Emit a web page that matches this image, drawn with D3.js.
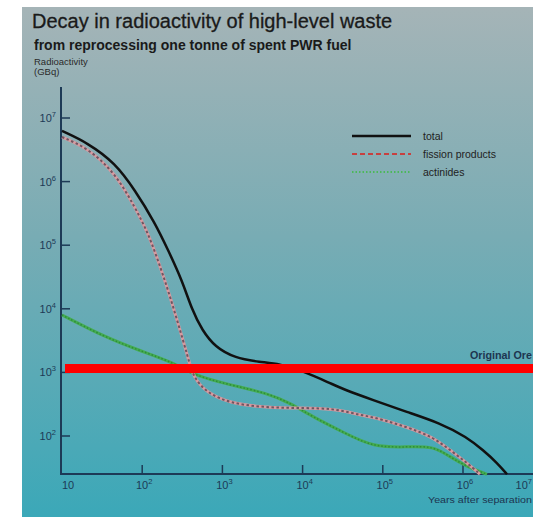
<!DOCTYPE html>
<html lang="en">
<head>
<meta charset="utf-8">
<title>Decay in radioactivity of high-level waste</title>
<script src="https://d3js.org/d3.v7.min.js"></script>
<style>
  body { margin: 0; background: #fff; }
  text { font-family: "Liberation Sans", Arial, sans-serif; }
</style>
</head>
<body>
<svg id="chart"></svg>
<script>
// years after separation / activity in GBq
const totalYears = [10, 21, 46, 81, 145, 210, 313, 418, 557, 809, 1435, 2944, 5224, 9290, 21980, 33800, 75510, 200400, 516400, 1122000, 1774000, 2655000, 3540000];
const totalGBq   = [6.25e6, 4.05e6, 1.96e6, 7.38e5, 2.23e5, 8.4e4, 2.84e4, 9570, 4650, 2510, 1680, 1460, 1355, 1090, 681, 528, 368, 238, 160, 96, 60, 38, 25];

const fissionYears = [10, 21, 46, 81, 118, 157, 210, 279, 372, 430, 643, 1245, 2944, 6966, 16480, 29240, 52000, 75510, 200400, 422700, 688700, 1122000, 1630000];
const fissionGBq   = [5.02e6, 3.37e6, 1.365e6, 3.99e5, 1.556e5, 5.85e4, 1.977e4, 5984, 1746, 847, 474, 330, 286, 275, 275, 256, 214, 199, 139, 96, 60, 38, 25];

const actinideYears = [10, 34, 89, 256, 430, 1245, 3597, 6966, 13490, 33800, 75510, 200400, 422700, 688700, 1122000, 1990000];
const actinideGBq   = [8000, 3606, 2249, 1406, 910, 634, 474, 330, 199, 111, 67, 67, 70, 47, 33, 25];

const oreLevel = 1150;
const xTicks = [10, 1e2, 1e3, 1e4, 1e5, 1e6, 1e7];
const xTickExp = ["", "2", "3", "4", "5", "6", "7"];
const yTicks = [1e2, 1e3, 1e4, 1e5, 1e6, 1e7];
const yTickExp = ["2", "3", "4", "5", "6", "7"];
const legendNames = ["total", "fission products", "actinides"];

const width = 533, height = 517;
const svg = d3.select("#chart").attr("width", width).attr("height", height);

// background gradient panel
const grad = svg.append("defs").append("linearGradient")
    .attr("id", "bg").attr("x1", 0).attr("y1", 0).attr("x2", 0).attr("y2", 1);
grad.append("stop").attr("offset", 0).attr("stop-color", "#a5b4b7");
grad.append("stop").attr("offset", 0.45).attr("stop-color", "#78acb4");
grad.append("stop").attr("offset", 1).attr("stop-color", "#3ba8b8");
svg.append("rect").attr("x", 22).attr("y", 7).attr("width", width - 22).attr("height", height - 7)
    .attr("fill", "url(#bg)");

let x = d3.scaleLog().domain([10, 1e7]).range([62, 62 + 6 * 80.2]);
let y = d3.scaleLog().domain([1e2, 1e7]).range([436, 118]);

const axisColor = "#1d3a56";

// titles
svg.append("text").attr("x", 32).attr("y", 28)
    .attr("font-size", 20).attr("fill", "#1a1a1a")
    .attr("stroke", "#1a1a1a").attr("stroke-width", 0.3)
    .text("Decay in radioactivity of high-level waste");
svg.append("text").attr("x", 34).attr("y", 50)
    .attr("font-size", 14).attr("font-weight", "bold").attr("fill", "#1a1a1a")
    .text("from reprocessing one tonne of spent PWR fuel");
svg.append("text").attr("x", 34).attr("y", 65)
    .attr("font-size", 9.5).attr("fill", "#2a2a2a").text("Radioactivity");
svg.append("text").attr("x", 34).attr("y", 75)
    .attr("font-size", 9.5).attr("fill", "#2a2a2a").text("(GBq)");

// axes
svg.append("line").attr("x1", 61).attr("x2", 61).attr("y1", 87).attr("y2", 474)
    .attr("stroke", axisColor).attr("stroke-width", 2);
svg.append("line").attr("x1", 60).attr("x2", width).attr("y1", 474).attr("y2", 474)
    .attr("stroke", axisColor).attr("stroke-width", 2);

let yAxis = svg.append("g");
yAxis.selectAll("line").data(yTicks).enter().append("line")
    .attr("x1", 61).attr("x2", 70).attr("y1", d => y(d)).attr("y2", d => y(d))
    .attr("stroke", axisColor).attr("stroke-width", 1.5);
let yLab = yAxis.selectAll("text").data(yTicks).enter().append("text")
    .attr("x", 56).attr("y", d => y(d) + 4).attr("text-anchor", "end")
    .attr("font-size", 11).attr("fill", axisColor);
yLab.append("tspan").text("10");
yLab.append("tspan").attr("dy", -5).attr("font-size", 7.5).text((d, i) => yTickExp[i]);

let xAxis = svg.append("g");
xAxis.selectAll("line").data(xTicks.slice(1)).enter().append("line")
    .attr("x1", d => x(d)).attr("x2", d => x(d)).attr("y1", 474).attr("y2", 465)
    .attr("stroke", axisColor).attr("stroke-width", 1.5);
let xLab = xAxis.selectAll("text").data(xTicks).enter().append("text")
    .attr("x", (d, i) => i === 0 ? x(d) + 6 : (i === xTicks.length - 1 ? width - 1 : x(d) + 2))
    .attr("y", 489)
    .attr("text-anchor", (d, i) => i === xTicks.length - 1 ? "end" : "middle")
    .attr("font-size", 11).attr("fill", axisColor);
xLab.append("tspan").text("10");
xLab.append("tspan").attr("dy", -5).attr("font-size", 7.5).text((d, i) => xTickExp[i]);

svg.append("text").attr("x", 428).attr("y", 503)
    .attr("font-size", 9.5).attr("fill", "#1d3550")
    .attr("textLength", 104).attr("lengthAdjust", "spacingAndGlyphs")
    .text("Years after separation");

// curves
let line = d3.line().x(d => x(d[0])).y(d => y(d[1])).curve(d3.curveBasis);
const zip = (a, b) => a.map((v, i) => [v, b[i]]);

svg.append("path").datum(zip(actinideYears, actinideGBq))
    .attr("d", line).attr("fill", "none")
    .attr("stroke", "#44ad52").attr("stroke-width", 3);
svg.append("path").datum(zip(actinideYears, actinideGBq))
    .attr("d", line).attr("fill", "none")
    .attr("stroke", "#2e8a3c").attr("stroke-width", 1.5).attr("stroke-dasharray", "1.5,2");

svg.append("path").datum(zip(fissionYears, fissionGBq))
    .attr("d", line).attr("fill", "none")
    .attr("stroke", "#d69aa0").attr("stroke-width", 3);
svg.append("path").datum(zip(fissionYears, fissionGBq))
    .attr("d", line).attr("fill", "none")
    .attr("stroke", "#6e5560").attr("stroke-width", 2).attr("stroke-dasharray", "2.5,2.5");

svg.append("path").datum(zip(totalYears, totalGBq))
    .attr("d", line).attr("fill", "none")
    .attr("stroke", "#111").attr("stroke-width", 2.5);

// original ore level
svg.append("line").attr("x1", 65).attr("x2", width)
    .attr("y1", y(oreLevel)).attr("y2", y(oreLevel))
    .attr("stroke", "#ff0000").attr("stroke-width", 9);
svg.append("text").attr("x", 470).attr("y", 359)
    .attr("font-size", 10).attr("font-weight", "bold").attr("fill", "#1d3550")
    .attr("textLength", 62).attr("lengthAdjust", "spacingAndGlyphs")
    .text("Original Ore");

// legend
const legendStyles = [
    {stroke: "#111", width: 2.5, dash: null},
    {stroke: "#c8403f", width: 2, dash: "5,3"},
    {stroke: "#4cb85a", width: 2, dash: "1.5,2"}
];
let legend = svg.append("g");
legendNames.forEach((name, i) => {
    let ly = 136 + i * 18;
    legend.append("line").attr("x1", 352).attr("x2", 411).attr("y1", ly).attr("y2", ly)
        .attr("stroke", legendStyles[i].stroke).attr("stroke-width", legendStyles[i].width)
        .attr("stroke-dasharray", legendStyles[i].dash);
    legend.append("text").attr("x", 423).attr("y", ly + 3.5)
        .attr("font-size", 10.5).attr("fill", "#222").text(name);
});
</script>
</body>
</html>
